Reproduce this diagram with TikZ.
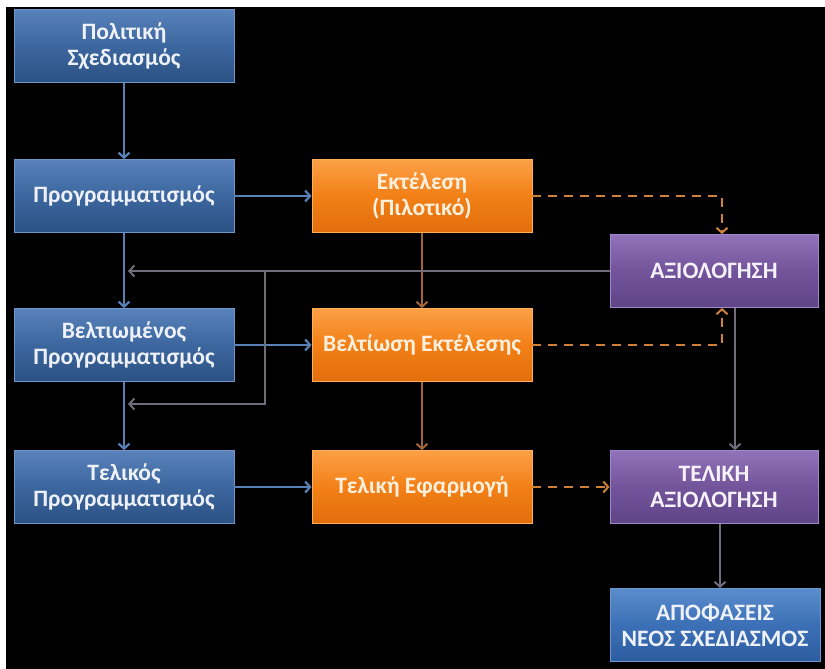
\documentclass[tikz,border=0pt]{standalone}
\usepackage{fontspec}
\setmainfont{Carlito}
\usetikzlibrary{arrows.meta,calc}

% box fills
\definecolor{bluetop}{RGB}{88,130,185}
\definecolor{bluemid}{RGB}{60,102,158}
\definecolor{bluebot}{RGB}{44,82,132}
\definecolor{blueedge}{RGB}{110,150,200}
\definecolor{oratop}{RGB}{252,160,70}
\definecolor{oramid}{RGB}{242,128,22}
\definecolor{orabot}{RGB}{225,110,12}
\definecolor{oraedge}{RGB}{255,175,90}
\definecolor{purtop}{RGB}{145,115,185}
\definecolor{purmid}{RGB}{115,84,155}
\definecolor{purbot}{RGB}{95,68,135}
\definecolor{puredge}{RGB}{160,135,200}
\definecolor{dectop}{RGB}{90,140,205}
\definecolor{decmid}{RGB}{60,112,182}
\definecolor{decbot}{RGB}{45,92,160}
% connector colours
\definecolor{bluelink}{RGB}{88,128,182}
\definecolor{oralink}{RGB}{165,100,55}
\definecolor{dashlink}{RGB}{205,130,55}
\definecolor{graylink}{RGB}{112,108,122}

\begin{document}
\begin{tikzpicture}[x=1pt,y=-1pt,
  box/.style={minimum width=220pt, minimum height=73pt, inner sep=0pt,
    align=center, font=\bfseries\fontsize{23.5}{26}\selectfont, line width=0.8pt},
  bluebox/.style={box, top color=bluetop, bottom color=bluebot, middle color=bluemid,
    draw=blueedge, text={rgb,255:red,238;green,242;blue,248}},
  orangebox/.style={box, top color=oratop, bottom color=orabot, middle color=oramid,
    draw=oraedge, text={rgb,255:red,255;green,240;blue,222}},
  purplebox/.style={box, minimum width=208pt, top color=purtop, bottom color=purbot,
    middle color=purmid, draw=puredge, text={rgb,255:red,245;green,242;blue,250}},
  decisionbox/.style={box, minimum width=210pt, top color=dectop, bottom color=decbot,
    middle color=decmid, draw=blueedge, text={rgb,255:red,238;green,242;blue,248}},
  tip/.style={-{Straight Barb[length=5pt,width=11pt]}},
  bluelinkline/.style={tip, draw=bluelink, line width=2.2pt},
  oralinkline/.style={tip, draw=oralink, line width=2pt},
  dashlinkline/.style={tip, draw=dashlink, line width=2pt, dash pattern=on 9pt off 7pt},
  graylinkline/.style={tip, draw=graylink, line width=2pt},
]
\useasboundingbox (0,0) rectangle (825,669);
\fill[white] (0,0) rectangle (825,669);
\fill[black] (6,7) rectangle (825,669);

% planning column
\node[bluebox] (A) at (124,46)  {Πολιτική\\Σχεδιασμός};
\node[bluebox] (B) at (124,196) {Προγραμματισμός};
\node[bluebox] (C) at (124,345) {Βελτιωμένος\\Προγραμματισμός};
\node[bluebox] (D) at (124,487) {Τελικός\\Προγραμματισμός};

% execution column
\node[orangebox] (E) at (422,196) {Εκτέλεση\\(Πιλοτικό)};
\node[orangebox] (F) at (422,345) {Βελτίωση Εκτέλεσης};
\node[orangebox] (G) at (422,487) {Τελική Εφαρμογή};

% evaluation column
\node[purplebox] (H) at (714,271) {ΑΞΙΟΛΟΓΗΣΗ};
\node[purplebox] (I) at (714,487) {ΤΕΛΙΚΗ\\ΑΞΙΟΛΟΓΗΣΗ};
\node[decisionbox] (J) at (715,625) {ΑΠΟΦΑΣΕΙΣ\\ΝΕΟΣ ΣΧΕΔΙΑΣΜΟΣ};

% planning flow
\draw[bluelinkline] (A) -- (B);
\draw[bluelinkline] (B) -- (C);
\draw[bluelinkline] (C) -- (D);
\draw[bluelinkline] (B) -- (E);
\draw[bluelinkline] (C) -- (F);
\draw[bluelinkline] (D) -- (G);

% execution flow
\draw[oralinkline] (E) -- (F);
\draw[oralinkline] (F) -- (G);

% results passed to evaluation
\draw[dashlinkline] (E.east) -| ([xshift=8pt]H.north);
\draw[dashlinkline] (F.east) -| ([xshift=8pt]H.south);
\draw[dashlinkline] (G) -- (I);

% evaluation flow
\draw[graylinkline] ([xshift=21pt]H.south) -- ([xshift=21pt]H.south |- I.north);
\draw[graylinkline] ([xshift=6pt]I.south) -- ([xshift=6pt]I.south |- J.north);

% feedback to planning
\coordinate (fbA) at ([xshift=4pt]B.south |- H.west);
\coordinate (split) at (265,0 |- H.west);
\coordinate (fbB) at ([xshift=4pt]C.south |- 0,404);
\draw[graylinkline] (H.west) -- (fbA);
\draw[graylinkline] (split) |- (fbB);
\end{tikzpicture}
\end{document}
